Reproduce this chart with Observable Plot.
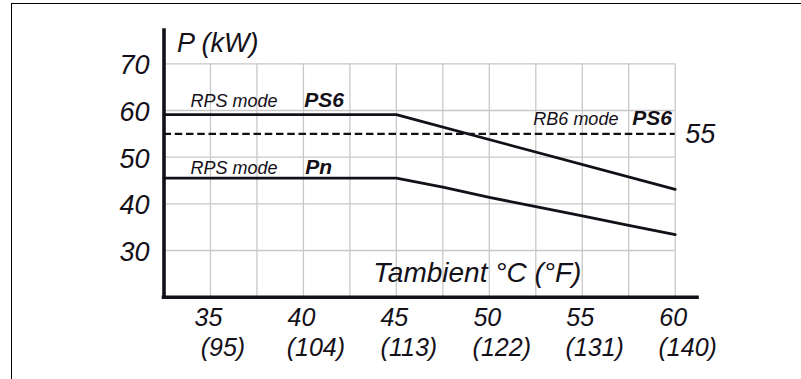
<!DOCTYPE html>
<html><head><meta charset="utf-8">
<script src="https://cdn.jsdelivr.net/npm/d3@7"></script>
<script src="https://cdn.jsdelivr.net/npm/@observablehq/plot@0.6"></script>
<style>
body{margin:0;background:#fff;}
#wrap{position:relative;width:801px;height:379px;overflow:hidden;}
#wrap svg{position:absolute;left:0;top:0;}
#frame{position:absolute;left:11px;top:3px;right:-5px;bottom:-5px;border-top:1px solid #000;border-left:1px solid #000;pointer-events:none;}
</style></head><body>
<div id="wrap"><div id="frame"></div></div>
<script>
// Tick labels
const tempC = [35, 40, 45, 50, 55, 60];
const tempF = ["(95)", "(104)", "(113)", "(122)", "(131)", "(140)"];
const powerTicks = [30, 40, 50, 60, 70];

// Series: RPS mode PS6
const ps6Temp = [32.5, 45, 60];
const ps6Kw = [59.1, 59.1, 43.1];
// Series: RPS mode Pn
const pnTemp = [32.5, 45, 47.5, 50, 52.5, 55, 57.5, 60];
const pnKw = [45.5, 45.5, 43.6, 41.4, 39.4, 37.4, 35.4, 33.4];
// RB6 mode PS6 (constant)
const rb6Kw = 55;

// Text annotations (italic) and bold labels
const noteText = ["P (kW)", "RPS mode", "RPS mode", "RB6 mode", "Tambient °C (°F)", "55"];
const noteX = [33.2, 33.92, 33.92, 52.37, 43.76, 60.54];
const noteY = [72.49, 60.64, 46.29, 56.79, 23.22, 52.93];
const boldText = ["PS6", "Pn", "PS6"];
const boldX = [40.05, 40.1, 57.69];
const boldY = [60.85, 46.4, 56.79];

const xMin = 32.5, xMax = 61.2, yMin = 20, yMax = 77.5;
const gridC = d3.range(35, 60.01, 2.5);
const font = "'Liberation Sans', Arial, Helvetica, sans-serif";
const ink = "#141018";

const noteSizes = [27, 18, 18, 18, 28, 27];

const chart = Plot.plot({
  width: 801,
  height: 379,
  marginLeft: 163.5,
  marginRight: 104,
  marginTop: 28.3,
  marginBottom: 82.3,
  style: {fontFamily: font, background: "transparent"},
  x: {domain: [xMin, xMax], axis: null},
  y: {domain: [yMin, yMax], axis: null},
  marks: [
    Plot.ruleX(gridC, {y1: 20, y2: 70, stroke: "#c8c8c8", strokeWidth: 1.3}),
    Plot.ruleY(powerTicks, {x1: xMin, x2: 60, stroke: "#c8c8c8", strokeWidth: 1.3}),
    Plot.ruleY([rb6Kw], {x1: xMin, x2: 60, stroke: ink, strokeWidth: 2.2, strokeDasharray: "7.5,3.75"}),
    Plot.line(ps6Kw, {x: ps6Temp, y: ps6Kw, stroke: ink, strokeWidth: 2.8}),
    Plot.line(pnKw, {x: pnTemp, y: pnKw, stroke: ink, strokeWidth: 2.8}),
    Plot.ruleX([xMin], {y1: yMin, y2: yMax, stroke: ink, strokeWidth: 3.6}),
    Plot.ruleY([yMin], {x1: xMin, x2: xMax, stroke: ink, strokeWidth: 3.6, strokeLinecap: "square"}),
    Plot.text(powerTicks, {x: xMin, y: d => d, text: d => String(d), dx: -14.5, dy: 2, textAnchor: "end", lineAnchor: "middle", fontSize: 27, fontStyle: "italic", fill: ink}),
    Plot.text(tempC, {x: d => d, y: yMin, text: d => String(d), dx: -2, dy: 29, textAnchor: "middle", lineAnchor: "bottom", fontSize: 25, fontStyle: "italic", fill: ink}),
    Plot.text(tempF, {x: (d, i) => tempC[i], y: yMin, text: d => d, dx: 12.5, dy: 58.5, textAnchor: "middle", lineAnchor: "bottom", fontSize: 25, fontStyle: "italic", fill: ink}),
    Plot.text(noteText, {x: noteX, y: noteY, text: d => d, textAnchor: "start", lineAnchor: "bottom", fontSize: (d, i) => noteSizes[i], fontStyle: "italic", fill: ink}),
    Plot.text(boldText, {x: boldX, y: boldY, text: d => d, textAnchor: "start", lineAnchor: "bottom", fontSize: 21, fontStyle: "italic", fontWeight: "bold", fill: ink})
  ]
});
document.getElementById("wrap").prepend(chart);
</script>
</body></html>
